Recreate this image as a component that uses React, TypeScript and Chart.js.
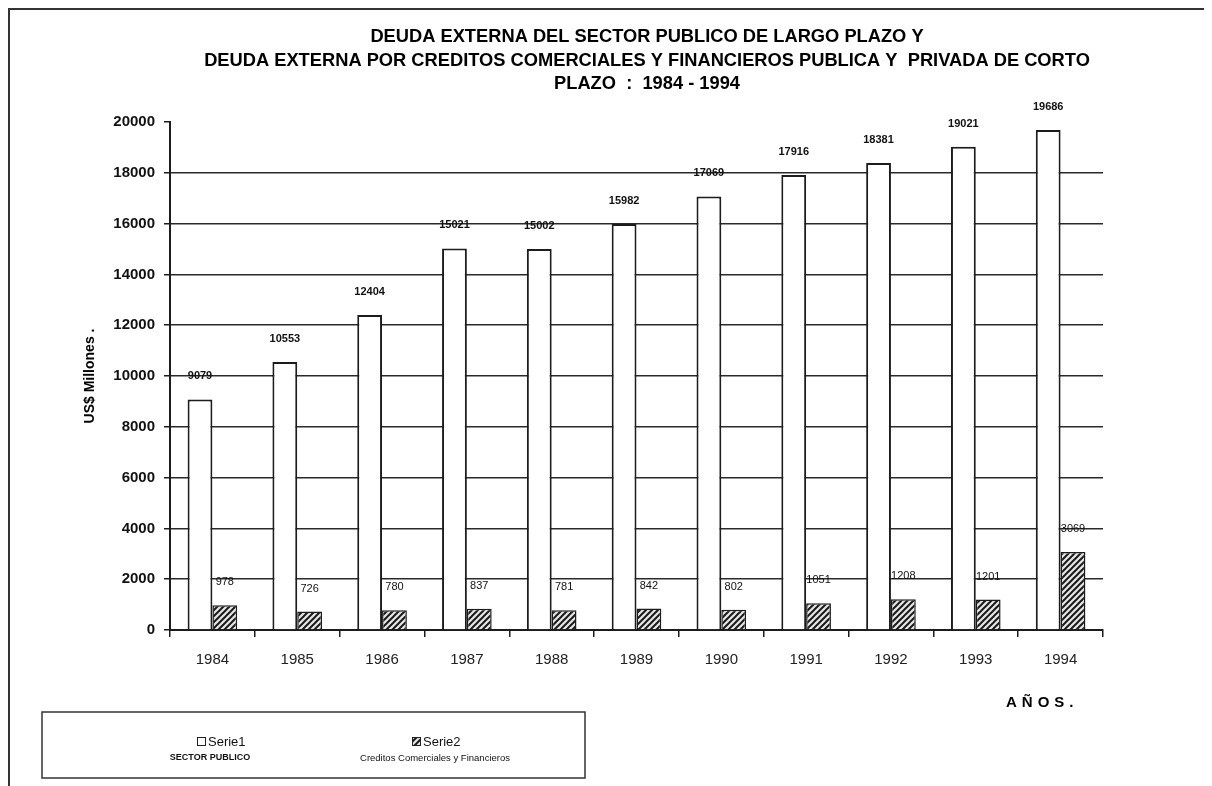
import React, { useEffect, useRef } from "react";
import { Chart, registerables } from "chart.js";

Chart.register(...registerables);

// Years on the category axis
const years = ["1984", "1985", "1986", "1987", "1988", "1989", "1990", "1991", "1992", "1993", "1994"];
// Serie1: long-term public sector external debt (US$ millions)
const sectorPublico = [9079, 10553, 12404, 15021, 15002, 15982, 17069, 17916, 18381, 19021, 19686];
// Serie2: short-term commercial and financial credits (US$ millions)
const creditosComerciales = [978, 726, 780, 837, 781, 842, 802, 1051, 1208, 1201, 3069];
// Value axis ticks
const yTickValues = [0, 2000, 4000, 6000, 8000, 10000, 12000, 14000, 16000, 18000, 20000];

const titleLines = [
  "DEUDA EXTERNA DEL SECTOR PUBLICO DE LARGO PLAZO Y",
  "DEUDA EXTERNA POR CREDITOS COMERCIALES Y FINANCIEROS PUBLICA Y  PRIVADA DE CORTO",
  "PLAZO  :  1984 - 1994",
];
const yAxisTitle = "US$ Millones .";
const xAxisTitle = "AÑOS.";
const seriesNames = ["Serie1", "Serie2"];
const seriesNotes = ["SECTOR PUBLICO", "Creditos Comerciales y Financieros"];

const FONT = "'Liberation Sans', Arial, sans-serif";
const INK = "#1c1c1c";

function makeHatch(): CanvasPattern | string {
  const tile = document.createElement("canvas");
  tile.width = 6;
  tile.height = 6;
  const g = tile.getContext("2d");
  if (!g) return "#777";
  g.fillStyle = "#e6e6e6";
  g.fillRect(0, 0, 6, 6);
  g.strokeStyle = "#1a1a1a";
  g.lineWidth = 2;
  g.beginPath();
  g.moveTo(-1, 7);
  g.lineTo(7, -1);
  g.moveTo(-1, 1);
  g.lineTo(1, -1);
  g.moveTo(5, 7);
  g.lineTo(7, 5);
  g.stroke();
  return g.createPattern(tile, "repeat") || "#777";
}

export default function App() {
  const canvasRef = useRef<HTMLCanvasElement | null>(null);

  useEffect(() => {
    document.documentElement.style.overflow = "hidden";
    const canvas = canvasRef.current;
    if (!canvas) return;
    const hatch = makeHatch();

    // Numbers printed above each bar
    const valueLabels = {
      id: "valueLabels",
      afterDatasetsDraw(chart: any) {
        const ctx = chart.ctx;
        ctx.save();
        ctx.fillStyle = "#111";
        ctx.textAlign = "center";
        ctx.textBaseline = "middle";
        chart.data.datasets.forEach((ds: any, di: number) => {
          ctx.font = di === 0 ? `bold 11px ${FONT}` : `11px ${FONT}`;
          const meta = chart.getDatasetMeta(di);
          meta.data.forEach((bar: any, i: number) => {
            ctx.fillText(String(ds.data[i]), bar.x, bar.y - 23);
          });
        });
        ctx.restore();
      },
    };

    // Title, axis captions and the boxed legend
    const decorations = {
      id: "decorations",
      afterDraw(chart: any) {
        const ctx = chart.ctx;
        ctx.save();
        ctx.fillStyle = "#000";
        ctx.textAlign = "center";
        ctx.textBaseline = "middle";
        ctx.font = `bold 18.3px ${FONT}`;
        titleLines.forEach((line, i) => ctx.fillText(line, 637, 27 + i * 23.5));

        // vertical axis caption
        ctx.save();
        ctx.translate(80, 366);
        ctx.rotate(-Math.PI / 2);
        ctx.font = `bold 14px ${FONT}`;
        ctx.fillText(yAxisTitle, 0, 0);
        ctx.restore();

        // horizontal axis caption
        ctx.font = `bold 15px ${FONT}`;
        ctx.textAlign = "left";
        (ctx as any).letterSpacing = "5px";
        ctx.fillText(xAxisTitle, 996, 693);
        (ctx as any).letterSpacing = "0px";

        // legend frame
        ctx.strokeStyle = "#333";
        ctx.lineWidth = 1.5;
        ctx.strokeRect(32, 702, 543, 66);

        const entries = [
          { x: 187, fill: "#fff" as any, noteFont: `bold 9px ${FONT}`, noteX: 200 },
          { x: 402, fill: hatch, noteFont: `9.5px ${FONT}`, noteX: 425 },
        ];
        entries.forEach((e, i) => {
          ctx.fillStyle = e.fill;
          ctx.fillRect(e.x, 727, 9, 9);
          ctx.strokeStyle = "#222";
          ctx.lineWidth = 1;
          ctx.strokeRect(e.x + 0.5, 727.5, 8, 8);
          ctx.fillStyle = "#111";
          ctx.textAlign = "left";
          ctx.font = `13px ${FONT}`;
          ctx.fillText(seriesNames[i], e.x + 11, 732);
          ctx.textAlign = "center";
          ctx.font = e.noteFont;
          ctx.fillText(seriesNotes[i], e.noteX, 748);
        });
        ctx.restore();
      },
    };

    const chart = new Chart(canvas, {
      type: "bar",
      data: {
        labels: years,
        datasets: [
          {
            label: seriesNames[0],
            data: sectorPublico,
            backgroundColor: "#ffffff",
            borderColor: INK,
            borderWidth: 2,
            categoryPercentage: 0.585,
            barPercentage: 1,
          },
          {
            label: seriesNames[1],
            data: creditosComerciales,
            backgroundColor: hatch as any,
            borderColor: INK,
            borderWidth: 1.5,
            categoryPercentage: 0.585,
            barPercentage: 1,
          },
        ],
      },
      options: {
        animation: false,
        responsive: false,
        maintainAspectRatio: false,
        layout: { padding: { top: 112, right: 103, left: 0, bottom: 0 } },
        plugins: {
          legend: { display: false },
          title: { display: false },
          tooltip: { enabled: false },
        },
        scales: {
          x: {
            offset: true,
            grid: {
              offset: true,
              drawOnChartArea: false,
              drawTicks: true,
              tickLength: 7,
              color: INK,
              lineWidth: 1.5,
            },
            border: { color: INK, width: 2 },
            ticks: {
              color: "#222",
              font: { family: FONT, size: 15 },
              padding: 14,
              maxRotation: 0,
            },
            afterFit: (scale: any) => {
              scale.height = 156;
            },
          },
          y: {
            min: 0,
            max: 20000,
            afterBuildTicks: (scale: any) => {
              scale.ticks = yTickValues.map((v) => ({ value: v }));
            },
            ticks: {
              color: "#111",
              font: { family: FONT, size: 15, weight: "bold" },
              padding: 9,
              callback: (v: any) => String(v),
            },
            grid: {
              color: (c: any) => (c.tick && c.tick.value === 20000 ? "rgba(0,0,0,0)" : "#2a2a2a"),
              tickColor: INK,
              lineWidth: 1.5,
              tickLength: 6,
            },
            border: { color: INK, width: 2 },
            afterFit: (scale: any) => {
              scale.width = 160;
            },
          },
        },
      },
      plugins: [valueLabels, decorations],
    } as any);

    return () => chart.destroy();
  }, []);

  return (
    <div
      style={{
        width: 1196,
        height: 776,
        borderTop: "2px solid #333",
        borderLeft: "2px solid #333",
        borderRight: "2px solid #444",
        background: "#fff",
      }}
    >
      <canvas ref={canvasRef} width={1196} height={776} style={{ display: "block" }} />
    </div>
  );
}
